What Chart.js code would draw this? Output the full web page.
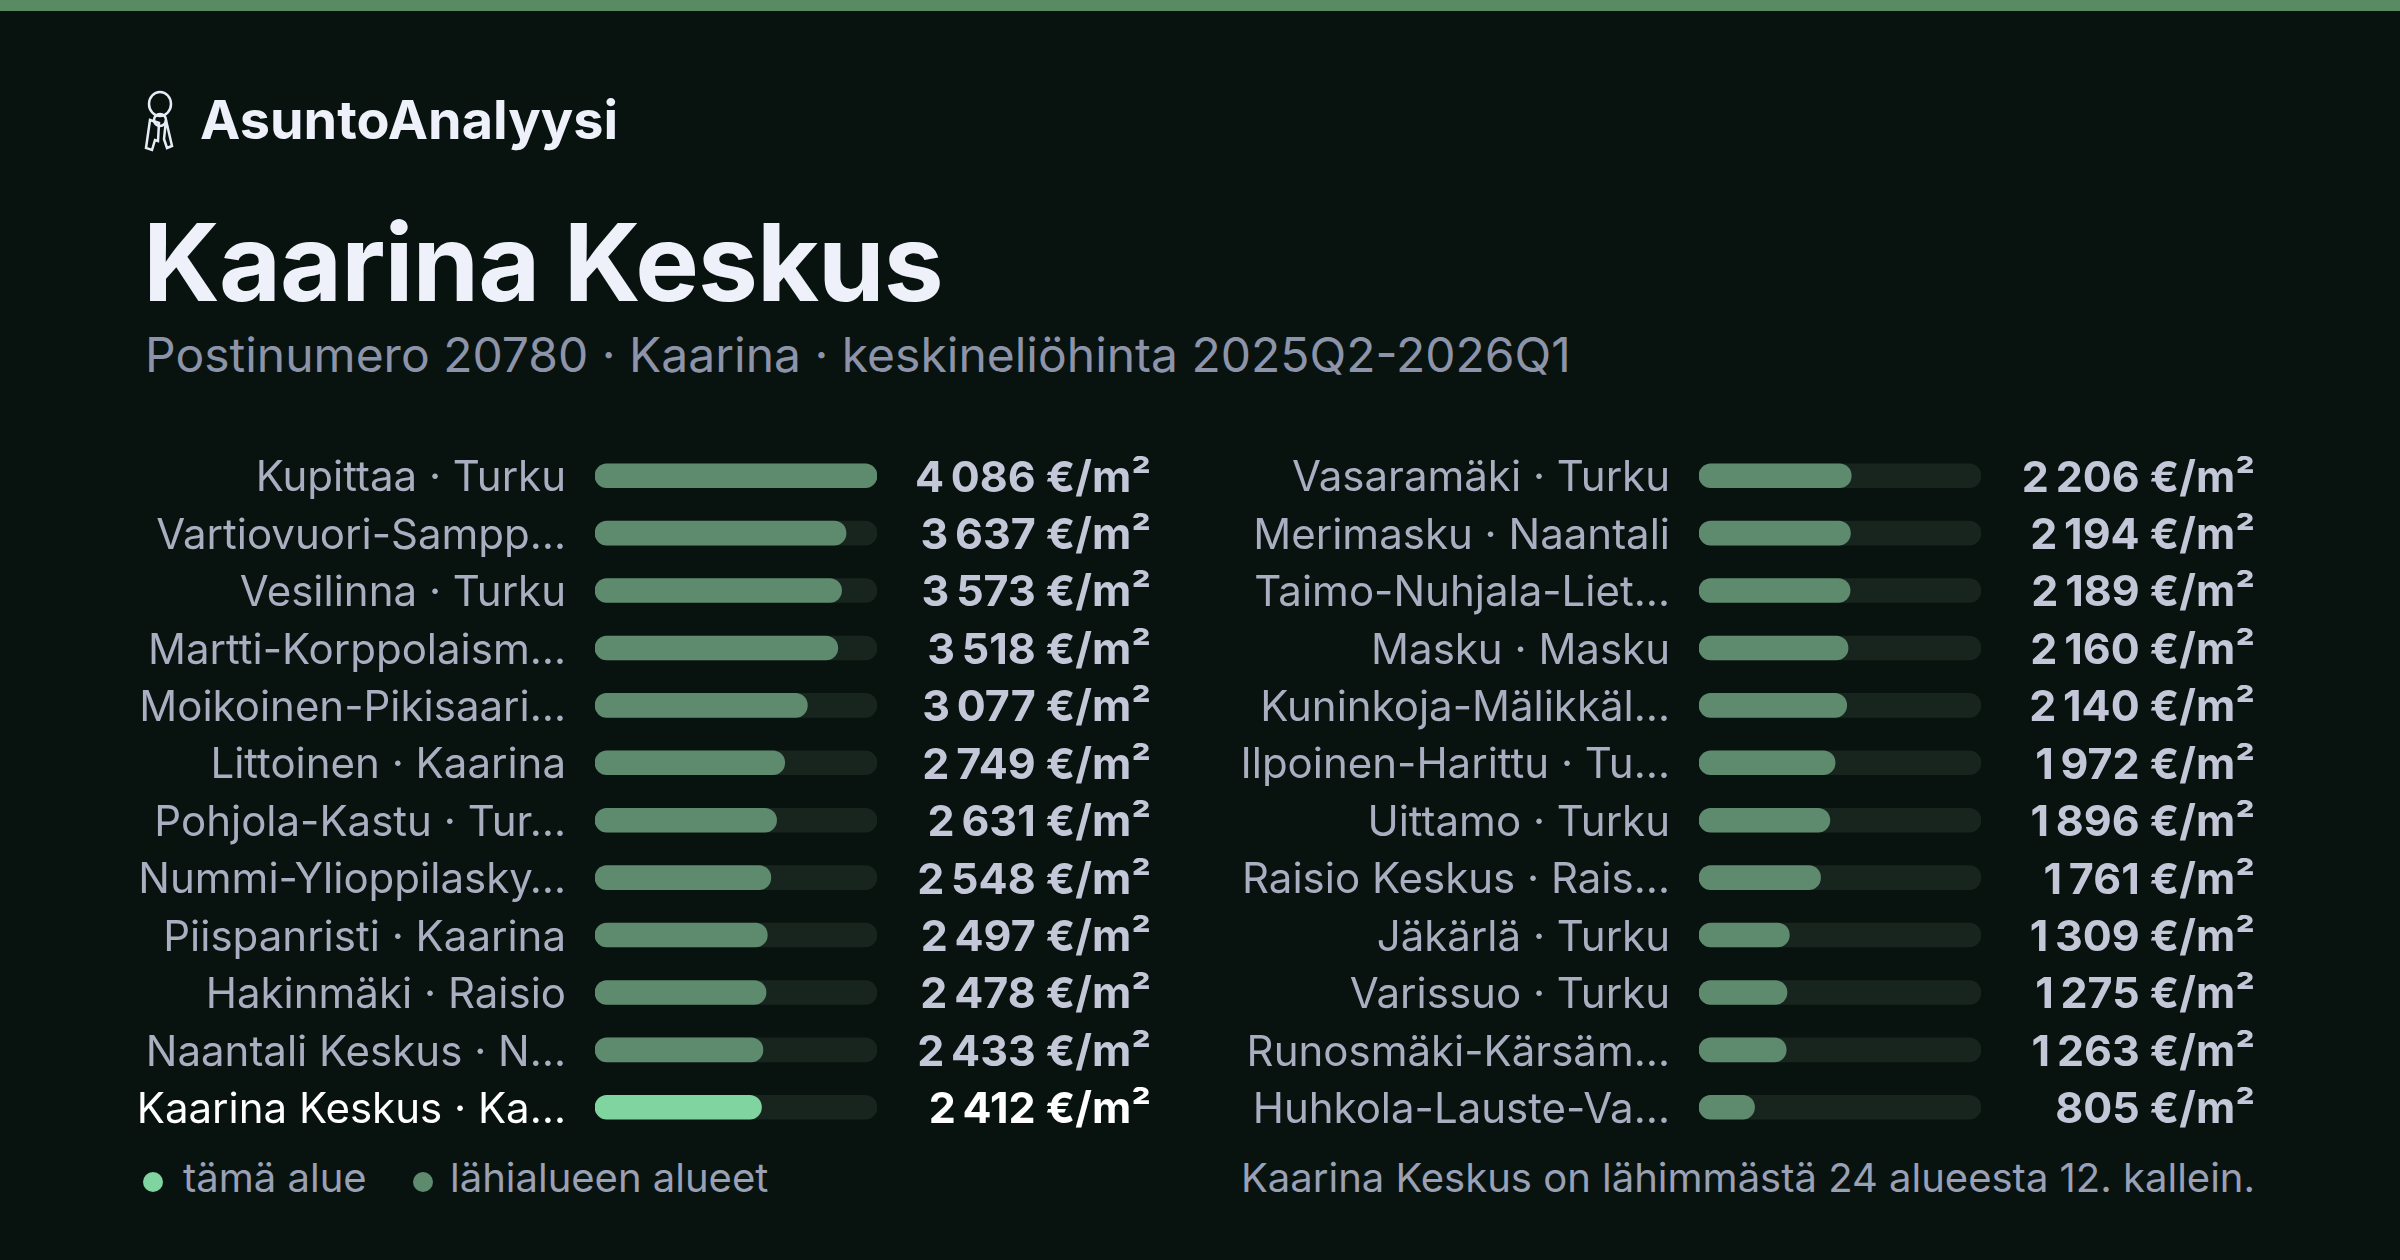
<!DOCTYPE html>
<html><head><meta charset="utf-8">
<script src="https://cdn.jsdelivr.net/npm/chart.js@4"></script>
<style>
html,body{margin:0;padding:0;background:#08130f;width:2400px;height:1260px;overflow:hidden;font-family:Inter,"Noto Sans",sans-serif}
#topbar{position:absolute;left:0;top:0;width:2400px;height:11px;background:#5a8a62}
.t{position:absolute;white-space:nowrap}
canvas{position:absolute}
</style></head><body>
<div id="topbar"></div>
<svg class="t" style="left:140px;top:90px" width="40" height="62" viewBox="0 0 40 62" fill="none" stroke="#e8ecf6" stroke-width="2.5">
<ellipse cx="20" cy="14" rx="11" ry="12"/><path d="M10 30 l-4 28 l6 2 l3-10 l3 1 l1-18 z"/><path d="M26 30 l6 26 l-5 2 l-3-9 z"/><circle cx="20" cy="30" r="6"/></svg>
<div class="t" style="left:200px;top:87px;font-size:54px;font-weight:700;color:#eef0fa">AsuntoAnalyysi</div>
<div class="t" style="left:143px;top:197px;font-size:107px;font-weight:700;color:#eef0fa;letter-spacing:-1px">Kaarina Keskus</div>
<div class="t" style="left:145px;top:325px;font-size:48px;color:#8d94aa">Postinumero 20780 · Kaarina · keskineliöhinta 2025Q2-2026Q1</div>
<canvas id="c1" style="left:140px;top:447px"></canvas>
<canvas id="c2" style="left:1230px;top:447px"></canvas>
<div class="t" style="left:143px;top:1172px;width:20px;height:20px;border-radius:50%;background:#7fd4a0"></div>
<div class="t" style="left:183px;top:1153px;font-size:40px;color:#9aa0b5">tämä alue</div>
<div class="t" style="left:413px;top:1172px;width:20px;height:20px;border-radius:50%;background:#5e8a6e"></div>
<div class="t" style="left:450px;top:1153px;font-size:40px;color:#9aa0b5">lähialueen alueet</div>
<div class="t" style="right:145px;top:1153px;font-size:40px;color:#9aa0b5">Kaarina Keskus on lähimmästä 24 alueesta 12. kallein.</div>
<script>
const leftLabels=["Kupittaa · Turku","Vartiovuori-Sampp…","Vesilinna · Turku","Martti-Korppolaism…","Moikoinen-Pikisaari…","Littoinen · Kaarina","Pohjola-Kastu · Tur…","Nummi-Ylioppilasky…","Piispanristi · Kaarina","Hakinmäki · Raisio","Naantali Keskus · N…","Kaarina Keskus · Ka…"];
const leftValues=[4086,3637,3573,3518,3077,2749,2631,2548,2497,2478,2433,2412];
const rightLabels=["Vasaramäki · Turku","Merimasku · Naantali","Taimo-Nuhjala-Liet…","Masku · Masku","Kuninkoja-Mälikkäl…","Ilpoinen-Harittu · Tu…","Uittamo · Turku","Raisio Keskus · Rais…","Jäkärlä · Turku","Varissuo · Turku","Runosmäki-Kärsäm…","Huhkola-Lauste-Va…"];
const rightValues=[2206,2194,2189,2160,2140,1972,1896,1761,1309,1275,1263,805];
const highlight="Kaarina Keskus · Ka…";
const scaleMax=4086;
const fmt=v=>String(v).replace(/\B(?=(\d{3})+(?!\d))/g,"\u2009")+" €/m²";
function make(id,labels,values,padL,padR,labelX,valueX){
  const cv=document.getElementById(id);
  const W=padL+282+padR, H=689;
  cv.width=W;cv.height=H;cv.style.width=W+'px';cv.style.height=H+'px';
  const textPlug={id:'txt',afterDatasetsDraw(ch){
    const c=ch.ctx,y=ch.scales.y;c.save();c.textBaseline='middle';
    labels.forEach((l,i)=>{const py=y.getPixelForValue(i)+3;const hi=l===highlight;
      c.font='42px Inter';c.textAlign='right';c.fillStyle=hi?'#ffffff':'#a9aec0';c.fillText(l,labelX,py);
      c.font='bold 43px Inter';c.fillStyle=hi?'#ffffff':'#c3c7d8';c.fillText(fmt(values[i]),valueX,py);});
    c.restore();}};
  new Chart(cv,{type:'bar',data:{labels,datasets:[
    {data:values,backgroundColor:labels.map(l=>l===highlight?'#7fd4a0':'#5e8a6e'),barThickness:24,borderRadius:12,borderSkipped:false,grouped:false,order:0},
    {data:values.map(()=>scaleMax),backgroundColor:'#18251f',barThickness:24,borderRadius:12,borderSkipped:false,grouped:false,order:1}]},
   options:{indexAxis:'y',responsive:false,animation:false,devicePixelRatio:1,
    layout:{padding:{left:padL,right:padR,top:0,bottom:0}},
    plugins:{legend:{display:false},tooltip:{enabled:false}},
    scales:{x:{display:false,min:0,max:scaleMax},y:{display:false}}},plugins:[textPlug]});
}
make('c1',leftLabels,leftValues,455,283,426,1011);
make('c2',rightLabels,rightValues,469,279,440,1025);
</script>
</body></html>
